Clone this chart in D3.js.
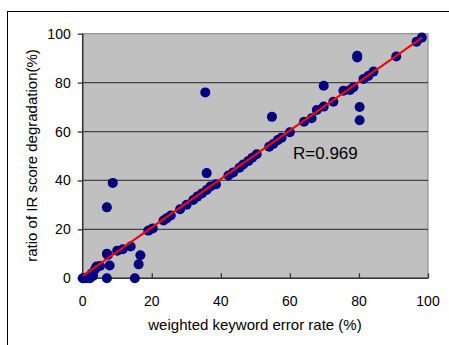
<!DOCTYPE html>
<html>
<head>
<meta charset="utf-8">
<script src="https://d3js.org/d3.v7.min.js"></script>
<style>
  body { margin: 0; background: #fff; }
  text { font-family: Arial, "Liberation Sans", sans-serif; fill: #000; }
</style>
</head>
<body>
<svg width="449" height="345"></svg>
<script>
// weighted keyword error rate (%)
const errRate = [0, 0.3, 1, 2.1, 2.6, 3.6, 4, 3, 1.5, 5, 7, 10, 11.6, 13.9, 19, 20.3, 23.4, 24.3, 25.5,
  28.2, 30.1, 32, 33.2, 34.5, 35.9, 37, 38.6, 42.2, 43.6, 45.4, 46.5, 48, 49.1, 50.4,
  54, 55.2, 56.5, 57.6, 60, 64.1, 66.3, 67.8, 69.8, 72.6, 75.5, 77.4, 78.4, 81.3, 82.7, 84.2,
  90.8, 96.7, 98.2,
  35.5, 35.9, 8.7, 7, 7, 15.1, 16.2, 16.7, 7.8, 7.3, 54.8, 69.8, 79.5, 79.5, 80.2, 80.2];
// ratio of IR score degradation (%)
const irDegr = [0, 0, 0, 0, 2, 3.7, 4.8, 1, 0.5, 5, 10, 11.3, 11.9, 13, 19.5, 20.4, 23.6, 24.5, 25.7,
  28.2, 30.1, 32, 33.4, 34.7, 36.1, 37.5, 38.4, 42, 43.3, 45.2, 46.5, 48, 49.3, 50.7,
  53.8, 54.9, 56.5, 57.5, 59.7, 64, 65.4, 68.8, 70.2, 72.2, 76.7, 77, 78.1, 81.5, 82.7, 84.5,
  90.7, 96.7, 98.4,
  76, 43, 39, 29, 0, 0, 5.7, 9.4, 5.2, 9.5, 66, 78.7, 91, 90.3, 70, 64.6];
// fitted line end points
const fitX = [0, 98.3];
const fitY = [1, 98.4];
const ticks = [0, 20, 40, 60, 80, 100];

const svg = d3.select("svg");
const x = d3.scaleLinear().domain([0, 100]).range([82.7, 428]);
const y = d3.scaleLinear().domain([0, 100]).range([278.3, 33.7]);

// outer frame
svg.append("rect").attr("x", 7.5).attr("y", 11.5).attr("width", 600).attr("height", 600)
  .attr("fill", "none").attr("stroke", "#000");

// plot background
svg.append("rect").attr("x", x(0)).attr("y", y(100))
  .attr("width", x(100) - x(0)).attr("height", y(0) - y(100))
  .attr("fill", "#c0c0c0").attr("stroke", "#808080");

// gridlines
svg.append("g").selectAll("line").data(ticks.filter(d => d > 0 && d < 100)).enter().append("line")
  .attr("x1", x(0)).attr("x2", x(100)).attr("y1", d => y(d)).attr("y2", d => y(d))
  .attr("stroke", "#444").attr("stroke-width", 1.2);

// axes
const yAxis = svg.append("g").attr("transform", `translate(${x(0)},0)`)
  .call(d3.axisLeft(y).tickValues(ticks).tickSize(5).tickPadding(7));
const xAxis = svg.append("g").attr("transform", `translate(0,${y(0)})`)
  .call(d3.axisTop(x).tickValues(ticks).tickSize(5).tickFormat(""));
[yAxis, xAxis].forEach(a => {
  a.select(".domain").attr("stroke", "#333").attr("stroke-width", 1.5);
  a.selectAll(".tick line").attr("stroke", "#333").attr("stroke-width", 1.3);
});
xAxis.select(".domain").attr("d", `M${x(0)},0H${x(100)}`);
yAxis.select(".domain").attr("d", `M0,${y(0)}V${y(100)}`);
yAxis.selectAll(".tick text").attr("font-size", 14).attr("font-family", "Arial, 'Liberation Sans', sans-serif");

svg.append("g").selectAll("text").data(ticks).enter().append("text")
  .attr("x", d => x(d)).attr("y", 306).attr("text-anchor", "middle")
  .attr("font-size", 14).text(d => d);

// points
svg.append("g").selectAll("circle").data(errRate.map((d, i) => [d, irDegr[i]])).enter()
  .append("circle")
  .attr("cx", d => x(d[0])).attr("cy", d => y(d[1])).attr("r", 5)
  .attr("fill", "#000080");

// fit line
svg.append("line")
  .attr("x1", x(fitX[0])).attr("y1", y(fitY[0]))
  .attr("x2", x(fitX[1])).attr("y2", y(fitY[1]))
  .attr("stroke", "#ff0000").attr("stroke-width", 2);

svg.append("text").attr("x", 293).attr("y", 158.5).attr("font-size", 17).text("R=0.969");

// axis titles
svg.append("text").attr("x", 255).attr("y", 330).attr("text-anchor", "middle")
  .attr("font-size", 15).text("weighted keyword error rate (%)");
svg.append("text").attr("transform", "translate(37,155.5) rotate(-90)")
  .attr("text-anchor", "middle").attr("font-size", 15)
  .text("ratio of IR score degradation(%)");
</script>
</body>
</html>
